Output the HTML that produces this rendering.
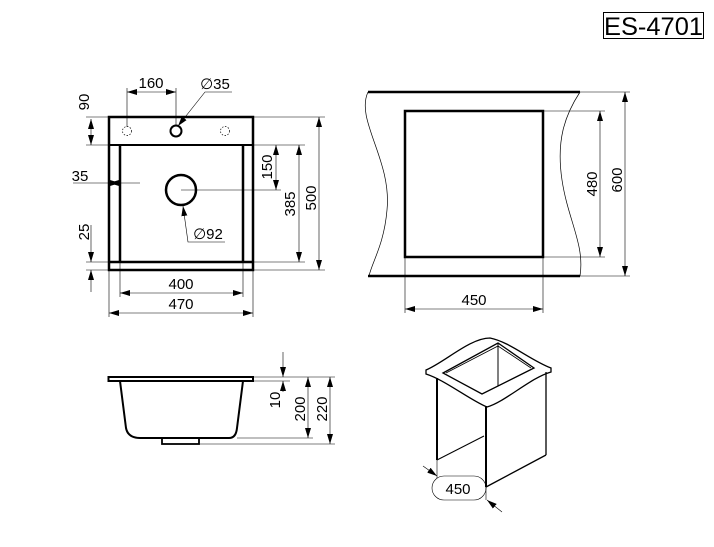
<!DOCTYPE html>
<html><head><meta charset="utf-8"><style>
html,body{margin:0;padding:0;background:#fff;}
svg{display:block;font-family:"Liberation Sans",Arial,sans-serif;}
</style></head><body>
<svg width="714" height="547" viewBox="0 0 714 547" xmlns="http://www.w3.org/2000/svg">
<defs>
<marker id="a" viewBox="0 0 10 6" refX="10" refY="3" markerWidth="10" markerHeight="6" orient="auto-start-reverse" markerUnits="userSpaceOnUse"><path d="M0,0 L10,3 L0,6 Z" fill="#000"/></marker>
</defs>
<g fill="none" stroke="#000">
<rect x="603.5" y="12.5" width="100" height="26" stroke-width="1"/>
<rect x="109" y="117" width="144" height="153" stroke-width="2.5"/>
<line x1="109" y1="145" x2="253" y2="145" stroke-width="2"/>
<line x1="120" y1="145" x2="120" y2="262" stroke-width="2.5"/>
<line x1="243" y1="145" x2="243" y2="262" stroke-width="2.5"/>
<line x1="109" y1="262" x2="253" y2="262" stroke-width="2.5"/>
<circle cx="176" cy="131" r="5.5" stroke-width="2"/>
<circle cx="127" cy="131" r="4.5" stroke-width="0.7" stroke-dasharray="1.5 1.5"/>
<circle cx="225" cy="131" r="4.5" stroke-width="0.7" stroke-dasharray="1.5 1.5"/>
<circle cx="181" cy="190" r="15" stroke-width="2.5"/>
<g stroke-width="0.6">
<line x1="127" y1="88" x2="127" y2="127"/><line x1="176" y1="88" x2="176" y2="125"/>
<line x1="127" y1="92" x2="176" y2="92" marker-start="url(#a)" marker-end="url(#a)"/>
<polyline points="232,92 205,92 178,126" marker-end="url(#a)"/>
<line x1="86" y1="117" x2="109" y2="117"/><line x1="86" y1="145" x2="109" y2="145"/>
<line x1="91" y1="119" x2="91" y2="145" marker-start="url(#a)" marker-end="url(#a)"/>
<line x1="73" y1="183" x2="120" y2="183" marker-end="url(#a)"/>
<line x1="140" y1="183" x2="109" y2="183" marker-end="url(#a)"/>
<line x1="86" y1="262" x2="109" y2="262"/><line x1="86" y1="270" x2="109" y2="270"/>
<line x1="91" y1="225" x2="91" y2="262" marker-end="url(#a)"/>
<line x1="91" y1="292" x2="91" y2="270" marker-end="url(#a)"/>
<line x1="243" y1="145" x2="305" y2="145"/><line x1="181" y1="190" x2="281" y2="190"/>
<line x1="276" y1="145" x2="276" y2="190" marker-start="url(#a)" marker-end="url(#a)"/>
<line x1="243" y1="262" x2="305" y2="262"/>
<line x1="299" y1="145" x2="299" y2="262" marker-start="url(#a)" marker-end="url(#a)"/>
<line x1="253" y1="117" x2="325" y2="117"/><line x1="253" y1="270" x2="325" y2="270"/>
<line x1="319" y1="117" x2="319" y2="270" marker-start="url(#a)" marker-end="url(#a)"/>
<line x1="120" y1="262" x2="120" y2="297"/><line x1="243" y1="262" x2="243" y2="297"/>
<line x1="120" y1="293" x2="243" y2="293" marker-start="url(#a)" marker-end="url(#a)"/>
<line x1="109" y1="270" x2="109" y2="317"/><line x1="253" y1="270" x2="253" y2="317"/>
<line x1="109" y1="313" x2="253" y2="313" marker-start="url(#a)" marker-end="url(#a)"/>
<polyline points="225,242 188,242 183,206" marker-end="url(#a)"/>
</g>
<line x1="368" y1="92" x2="580" y2="92" stroke-width="2.5"/>
<line x1="368" y1="276" x2="580" y2="276" stroke-width="2.5"/>
<path d="M368,92 C355,120 392,160 387,210 C384,245 372,262 369,276" stroke-width="0.7"/>
<path d="M580,92 C565,115 556,140 562,180 C568,220 585,245 580,276" stroke-width="0.7"/>
<rect x="405" y="111" width="138" height="146" stroke-width="2.5"/>
<g stroke-width="0.6">
<line x1="543" y1="111" x2="605" y2="111"/><line x1="543" y1="257" x2="605" y2="257"/>
<line x1="600" y1="111" x2="600" y2="257" marker-start="url(#a)" marker-end="url(#a)"/>
<line x1="580" y1="92" x2="630" y2="92"/><line x1="580" y1="276" x2="630" y2="276"/>
<line x1="625" y1="92" x2="625" y2="276" marker-start="url(#a)" marker-end="url(#a)"/>
<line x1="405" y1="257" x2="405" y2="313"/><line x1="543" y1="257" x2="543" y2="313"/>
<line x1="405" y1="309" x2="543" y2="309" marker-start="url(#a)" marker-end="url(#a)"/>
</g>
<rect x="108.5" y="377" width="144.5" height="4" stroke-width="2"/>
<path d="M120,381 L126,428 Q128,438 140,438 L229,438 Q236,438 237,428 L243,381" stroke-width="2"/>
<rect x="162" y="438" width="37" height="6" stroke-width="1.8"/>
<g stroke-width="0.6">
<line x1="253" y1="377" x2="335" y2="377"/><line x1="253" y1="381" x2="290" y2="381"/>
<line x1="237" y1="438" x2="313" y2="438"/><line x1="199" y1="444" x2="335" y2="444"/>
<line x1="283" y1="352" x2="283" y2="377" marker-end="url(#a)"/>
<line x1="283" y1="392" x2="283" y2="381" marker-end="url(#a)"/>
<line x1="308" y1="377" x2="308" y2="438" marker-start="url(#a)" marker-end="url(#a)"/>
<line x1="330" y1="377" x2="330" y2="444" marker-start="url(#a)" marker-end="url(#a)"/>
</g>
<path d="M426,370 C445,362 470,338 490,338 C510,342 530,360 551,368 L551,372 C530,378 505,402 487,407 C470,400 445,380 426,374 Z" fill="#fff" stroke-width="1.3"/>
<path d="M443,373 L498,343 L534,368 L482,394 Z" stroke-width="1.3"/>
<path d="M446,373 L498,346 L531,368" stroke-width="0.8"/>
<line x1="498" y1="343" x2="498" y2="386" stroke-width="1"/>
<line x1="437" y1="378" x2="437" y2="460" stroke-width="2"/>
<line x1="437" y1="460" x2="484" y2="436" stroke-width="1"/>
<line x1="486" y1="406" x2="486" y2="487" stroke-width="2"/>
<line x1="546" y1="372" x2="546" y2="455" stroke-width="1.3"/>
<line x1="486" y1="487" x2="546" y2="455" stroke-width="1.3"/>
<g stroke-width="0.6">
<line x1="437" y1="460" x2="437" y2="478"/><line x1="486" y1="487" x2="486" y2="500"/>
<line x1="423" y1="466" x2="437" y2="476" marker-end="url(#a)"/>
<line x1="502" y1="512" x2="487" y2="500" marker-end="url(#a)"/>
<rect x="432" y="476" width="54" height="24" rx="12" ry="12"/>
</g>
</g>
<g fill="#000" font-size="15">
<text x="604" y="35" font-size="25" textLength="99" lengthAdjust="spacingAndGlyphs">ES-4701</text>
<text x="151" y="88" text-anchor="middle">160</text>
<text x="215" y="89" text-anchor="middle">∅35</text>
<text x="208" y="239" text-anchor="middle">∅92</text>
<text x="80" y="181" text-anchor="middle">35</text>
<text x="181" y="289" text-anchor="middle">400</text>
<text x="181" y="309" text-anchor="middle">470</text>
<text x="474" y="305" text-anchor="middle">450</text>
<text x="458" y="494" text-anchor="middle">450</text>
<text transform="translate(89,102) rotate(-90)" text-anchor="middle">90</text>
<text transform="translate(89,232) rotate(-90)" text-anchor="middle">25</text>
<text transform="translate(272,167) rotate(-90)" text-anchor="middle">150</text>
<text transform="translate(295,204) rotate(-90)" text-anchor="middle">385</text>
<text transform="translate(316,198) rotate(-90)" text-anchor="middle">500</text>
<text transform="translate(597,184) rotate(-90)" text-anchor="middle">480</text>
<text transform="translate(622,180) rotate(-90)" text-anchor="middle">600</text>
<text transform="translate(280,400) rotate(-90)" text-anchor="middle">10</text>
<text transform="translate(305,409) rotate(-90)" text-anchor="middle">200</text>
<text transform="translate(327,409) rotate(-90)" text-anchor="middle">220</text>
</g>
</svg>
</body></html>
